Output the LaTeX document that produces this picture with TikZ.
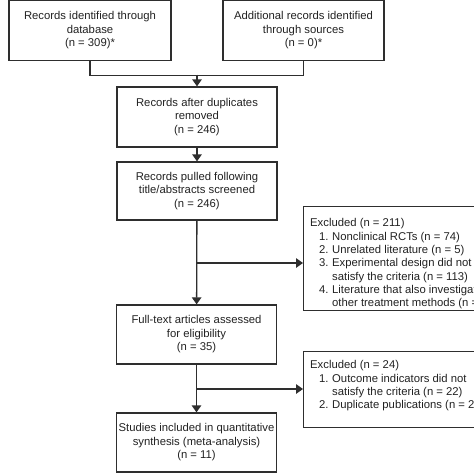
\documentclass[tikz,border=0pt]{standalone}
\usepackage{fontspec}
\setmainfont{Liberation Sans}
\usetikzlibrary{arrows.meta}
\definecolor{linec}{HTML}{2E2E2E}
\definecolor{textc}{HTML}{222222}
\newcommand\exitem[2]{\makebox[22pt][l]{\hspace*{9pt}#1}#2}
\newcommand\excont[1]{\hspace*{22pt}#1}
\begin{document}
\begin{tikzpicture}[x=1pt,y=-1pt,
  flowbox/.style={draw=linec, line width=1.3pt, minimum width=160pt, minimum height=59pt,
    align=center, inner sep=0pt, text=textc, font=\fontsize{11.3}{13.5}\selectfont},
  exbox/.style={draw=linec, line width=1.3pt, minimum width=197pt, anchor=north west, inner sep=0pt},
  extext/.style={align=left, inner sep=0pt, anchor=north west, text=textc, font=\fontsize{11.3}{13.3}\selectfont},
  ln/.style={draw=linec, line width=1.3pt},
  arr/.style={ln, -{Triangle[length=7pt,width=9.5pt]}}]
\useasboundingbox (0,0) rectangle (474,474);
\clip (0,0) rectangle (474,474);
\fill[white] (0,0) rectangle (474,474);
\node[flowbox, minimum width=162pt, minimum height=60pt] (db) at (90,30.5) {Records identified through\\database\\(n = 309)*};
\node[flowbox, minimum width=161pt, minimum height=60pt] (src) at (303.5,30.5) {Additional records identified\\through sources\\(n = 0)*};
\node[flowbox, minimum height=60pt] (dup) at (197,117) {Records after duplicates\\removed\\(n = 246)};
\node[flowbox, minimum height=58pt] (scr) at (197,191) {Records pulled following\\title/abstracts screened\\(n = 246)};
\node[flowbox] (full) at (196.5,334.5) {Full-text articles assessed\\for eligibility\\(n = 35)};
\node[flowbox] (incl) at (196.5,442.5) {Studies included in quantitative\\synthesis (meta-analysis)\\(n = 11)};
\node[exbox, minimum height=104pt] (ex1) at (303,206) {};
\node[exbox, minimum height=76pt] (ex2) at (303,351) {};
\node[extext] (ex1t) at (310,218.5) {Excluded (n = 211)\\
\exitem{1.}{Nonclinical RCTs (n = 74)}\\
\exitem{2.}{Unrelated literature (n = 5)}\\
\exitem{3.}{Experimental design did not}\\
\excont{satisfy the criteria (n = 113)}\\
\exitem{4.}{Literature that also investigated}\\
\excont{other treatment methods (n = 19)}};
\node[extext] (ex2t) at (310,360.5) {Excluded (n = 24)\\
\exitem{1.}{Outcome indicators did not}\\
\excont{satisfy the criteria (n = 22)}\\
\exitem{2.}{Duplicate publications (n = 2)}};
\draw[ln] (db.south) -- ++(0,14) -| (src.south);
\coordinate (j1) at (197,74.5);
\draw[arr] (j1) -- (dup.north);
\draw[arr] (dup) -- (scr);
\draw[arr] (scr) -- (full);
\coordinate (j2) at (197,263);
\draw[arr] (j2) -- (j2 -| ex1.west);
\draw[arr] (full) -- (incl);
\coordinate (j3) at (196.5,389);
\draw[arr] (j3) -- (j3 -| ex2.west);
\end{tikzpicture}
\end{document}
